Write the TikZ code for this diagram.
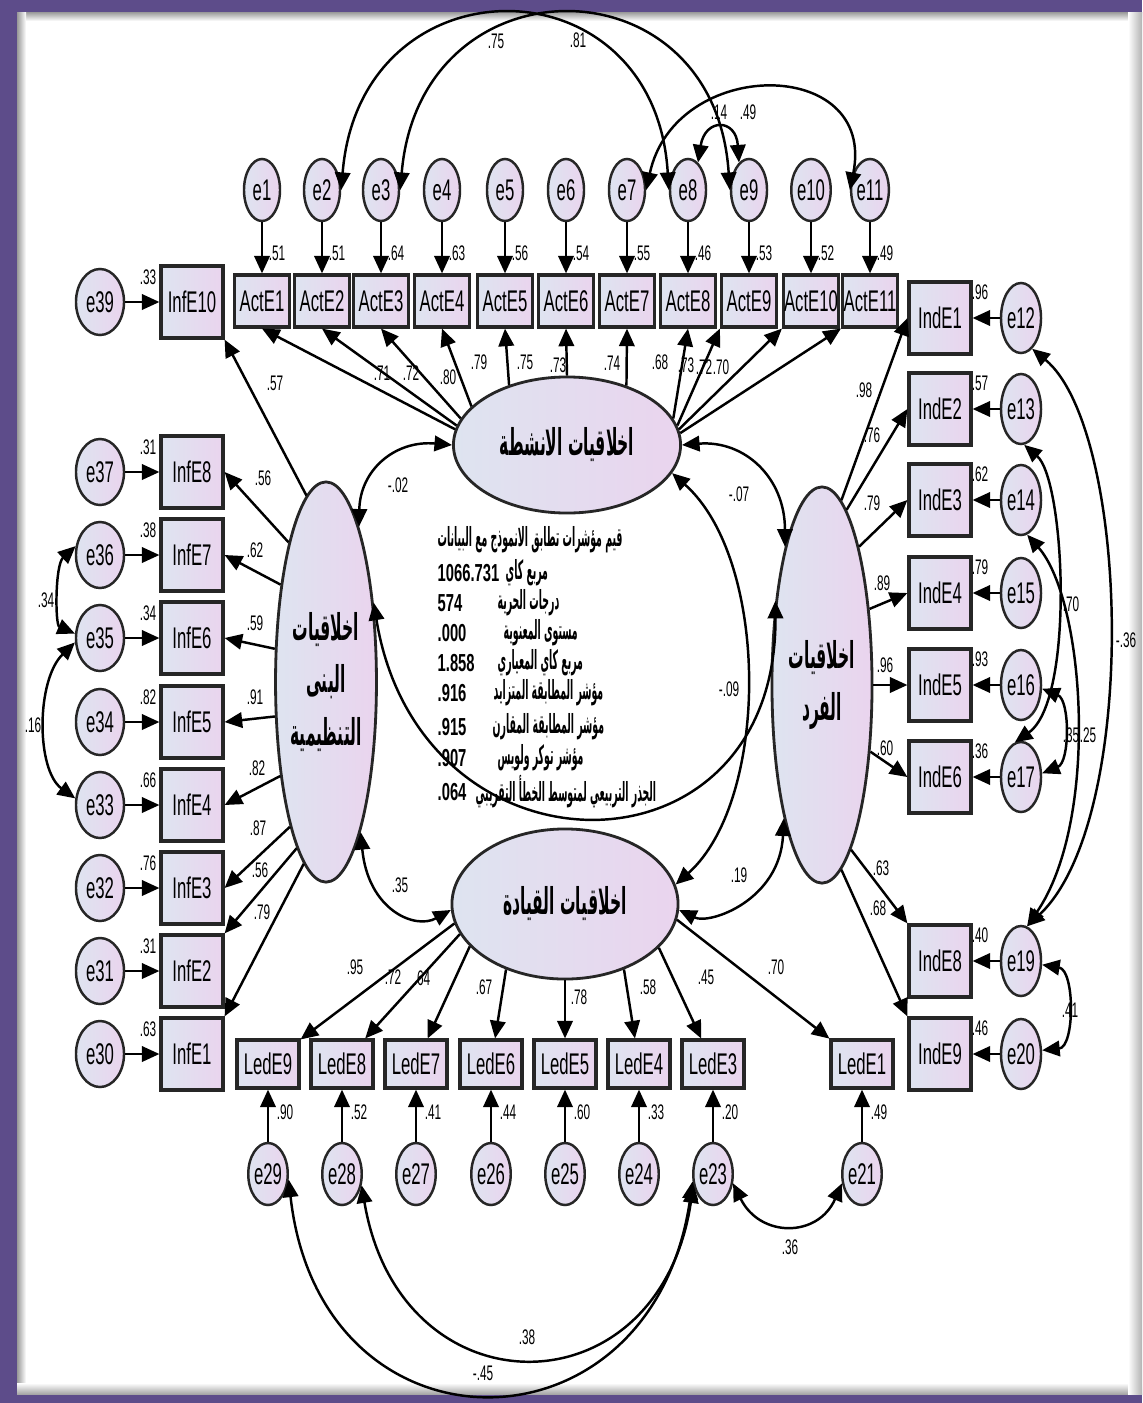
\documentclass[tikz,border=0pt]{standalone}
\usepackage{fontspec}
\setmainfont{Liberation Sans}
\newfontfamily\narrowsans[FakeStretch=0.56]{Liberation Sans}
\newfontfamily\fitfont[FakeStretch=0.6]{Liberation Sans}
\newfontfamily\arabicfont[Script=Arabic,FakeStretch=0.42]{DejaVu Sans}
\newfontfamily\arabicfit[Script=Arabic,FakeStretch=0.355]{DejaVu Sans}
\TeXXeTstate=1
\usetikzlibrary{arrows.meta, shapes.geometric}

\definecolor{framepurple}{RGB}{93,76,138}
\definecolor{nodeleft}{RGB}{222,228,240}
\definecolor{noderight}{RGB}{234,212,238}

\begin{document}
\begin{tikzpicture}[
  x=0.01cm, y=-0.01cm,
  obs/.style={draw=black!85, line width=0.9pt, left color=nodeleft, right color=noderight, inner sep=0pt, font=\narrowsans\fontsize{8.5}{10}\selectfont},
  obsact/.style={obs, minimum width=0.55cm, minimum height=0.52cm},
  obsside/.style={obs, minimum width=0.62cm, minimum height=0.72cm},
  obsled/.style={obs, minimum width=0.62cm, minimum height=0.48cm},
  err/.style={ellipse, draw=black!85, line width=0.7pt, left color=nodeleft, right color=noderight, inner sep=0pt, font=\narrowsans\fontsize{8.5}{10}\selectfont},
  errtop/.style={err, minimum width=0.36cm, minimum height=0.62cm},
  errleft/.style={err, minimum width=0.48cm, minimum height=0.66cm},
  errright/.style={err, minimum width=0.40cm, minimum height=0.70cm},
  lat/.style={ellipse, draw=black!85, line width=0.8pt, left color=nodeleft, right color=noderight, inner sep=0pt, align=center, font=\arabicfont\bfseries\fontsize{10.5}{15}\selectfont},
  arr/.style={-{Triangle[length=5pt, width=4.4pt]}, line width=0.7pt},
  cov/.style={{Triangle[length=5pt, width=4.4pt]}-{Triangle[length=5pt, width=4.4pt]}, line width=0.7pt},
  num/.style={inner sep=0pt, font=\narrowsans\fontsize{6}{7}\selectfont},
  fitnum/.style={anchor=west, inner sep=0pt, font=\fitfont\bfseries\fontsize{7}{8}\selectfont},
  fitlab/.style={anchor=west, inner sep=0pt, font=\arabicfit\bfseries\fontsize{7.5}{9}\selectfont},
]

% Frame
\useasboundingbox (0,0) rectangle (1142,1403);
\fill[framepurple] (0,0) rectangle (1142,1403);
\fill[white] (17,12) rectangle (1142,1394);
\shade[top color=black!40, bottom color=white] (17,12) rectangle (1142,21);
\shade[left color=black!40, right color=white] (17,12) rectangle (26,1394);
\shade[top color=white, bottom color=black!35] (17,1383) rectangle (1142,1394);
\shade[left color=white, right color=black!30] (1128,12) rectangle (1142,1394);

% Latent factors
\node[lat, minimum width=2.27cm, minimum height=1.36cm] (act) at (567,445) {\beginR اخلاقيات الانشطة\endR};
\node[lat, minimum width=1.0cm, minimum height=4.0cm] (org) at (326,682) {\beginR اخلاقيات\endR\\\beginR البنى\endR\\\beginR التنظيمية\endR};
\node[lat, minimum width=1.0cm, minimum height=3.96cm] (ind) at (822,685) {\beginR اخلاقيات\endR\\\beginR الفرد\endR};
\node[lat, minimum width=2.26cm, minimum height=1.5cm] (led) at (565,904) {\beginR اخلاقيات القيادة\endR};

% Activities indicators
\foreach \i/\x/\r in {1/262/.51, 2/322/.51, 3/381/.64, 4/442/.63, 5/505/.56, 6/566/.54, 7/627/.55, 8/688/.46, 9/749/.53, 10/811/.52, 11/870/.49}{
  \node[obsact] (ActE\i) at (\x,301) {ActE\i};
  \node[errtop] (e\i) at (\x,190) {e\i};
  \node[num] (rA\i) at (\x+15,253) {\r};
  \draw[arr] (e\i) -- (ActE\i);
}
\foreach \i/\a/\tip/\lx/\ly/\v in {1/172/south/382/373/.71, 2/170/south/411/373/.72, 3/166/south/448/377/.80, 4/158/south/479/362/.79, 5/134/south/525/362/.75, 6/90/south/558/365/.73, 7/45/south/612/363/.74, 8/14/south/660/362/.68, 9/10/south west/686/365/.73, 10/8/south west/704/367/.72, 11/6/south west/721/367/.70}{
  \draw[arr] (act.\a) -- (ActE\i.\tip);
  \node[num] (lA\i) at (\lx,\ly) {\v};
}

% Organisational structure indicators
\foreach \i/\e/\y/\r in {10/39/302/.33, 8/37/472/.31, 7/36/555/.38, 6/35/638/.34, 5/34/722/.82, 4/33/805/.66, 3/32/888/.76, 2/31/971/.31, 1/30/1054/.63}{
  \node[obsside] (InfE\i) at (192,\y) {InfE\i};
  \node[errleft] (e\e) at (100,\y) {e\e};
  \node[num] (rI\i) at (148,\y-25) {\r};
  \draw[arr] (e\e) -- (InfE\i);
}
\foreach \i/\a/\tip/\lx/\ly/\v in {10/96/south east/275/383/.57, 8/105/east/263/478/.56, 7/115/east/255/550/.62, 6/147/east/255/623/.59, 5/214/east/255/697/.91, 4/244/east/257/768/.82, 3/256/east/258/828/.87, 2/260/north east/260/870/.56, 1/263/north east/262/912/.79}{
  \draw[arr] (org.\a) -- (InfE\i.\tip);
  \node[num] (lI\i) at (\lx,\ly) {\v};
}

% Individual indicators
\foreach \i/\e/\y/\r in {1/12/318/.96, 2/13/409/.57, 3/14/500/.62, 4/15/593/.79, 5/16/685/.93, 6/17/777/.36, 8/19/961/.40, 9/20/1054/.46}{
  \node[obsside] (IndE\i) at (940,\y) {IndE\i};
  \node[errright] (e\e) at (1021,\y) {e\e};
  \node[num] (rD\i) at (980,\y-26) {\r};
  \draw[arr] (e\e) -- (IndE\i);
}
\foreach \i/\a/\tip/\lx/\ly/\v in {1/84/west/864/390/.98, 2/82/west/872/435/.76, 3/75/west/872/503/.79, 4/58/west/882/583/.89, 5/0/west/885/665/.96, 6/-54/west/885/748/.60, 8/-80/north west/881/868/.63, 9/-84/north west/878/908/.68}{
  \draw[arr] (ind.\a) -- (IndE\i.\tip);
  \node[num] (lD\i) at (\lx,\ly) {\v};
}

% Leadership indicators
\foreach \i/\e/\x/\r in {9/29/268/.90, 8/28/342/.52, 7/27/416/.41, 6/26/491/.44, 5/25/565/.60, 4/24/639/.33, 3/23/713/.20, 1/21/862/.49}{
  \node[obsled] (LedE\i) at (\x,1064) {LedE\i};
  \node[errtop] (e\e) at (\x,1174) {e\e};
  \node[num] (rL\i) at (\x+17,1112) {\r};
  \draw[arr] (e\e) -- (LedE\i);
}
\foreach \i/\a/\lx/\ly/\v in {9/190/355/967/.95, 8/196/393/977/.72, 7/204/422/978/.64, 6/228/484/987/.67, 5/270/579/997/.78, 4/312/648/987/.58, 3/335/706/977/.45, 1/352/776/967/.70}{
  \draw[arr] (led.\a) -- (LedE\i);
  \node[num] (lL\i) at (\lx,\ly) {\v};
}

% Factor covariances
\draw[cov] (act.180) .. controls (395,440) and (360,470) .. (org.78);
\node[num] (cAO) at (398,485) {-.02};
\draw[cov] (act.0) .. controls (745,440) and (785,478) .. (ind.105);
\node[num] (cAD) at (739,494) {-.07};
\draw[cov] (act.-15) .. controls (770,560) and (770,800) .. (led.10);
\node[num] (cAL) at (729,689) {-.09};
\draw[cov] (org.59) .. controls (420,887) and (777,887) .. (ind.119);
\draw[cov] (org.-77) .. controls (368,910) and (415,930) .. (led.183);
\node[num] (cOL) at (400,885) {.35};
\draw[cov] (led.-3) .. controls (710,925) and (780,900) .. (ind.-106);
\node[num] (cDL) at (739,875) {.19};

% Error covariances
\draw[cov] (e2.east) .. controls (360,-43) and (655,-43) .. (e8.west);
\node[num] (c28) at (496,41) {.75};
\draw[cov] (e3.east) .. controls (420,-43) and (715,-43) .. (e9.west);
\node[num] (c39) at (578,40) {.81};
\draw[cov] (e7.east) .. controls (675,56) and (877,56) .. (e11.west);
\node[num] (c711) at (748,112) {.49};
\draw[cov] (e8.70) .. controls (705,118) and (736,118) .. (e9.110);
\node[num] (c89) at (719,112) {.14};
\draw[cov] (e36.160) .. controls (55,565) and (55,625) .. (e35.170);
\node[num] (c3635) at (46,600) {.34};
\draw[cov] (e35.190) .. controls (36,680) and (36,770) .. (e33.165);
\node[num] (c3533) at (33,725) {.16};
\draw[cov] (e12.-70) .. controls (1130,430) and (1140,820) .. (e19.80);
\node[num] (c1219) at (1126,640) {-.36};
\draw[cov] (e13.-85) .. controls (1065,480) and (1075,700) .. (e17.100);
\node[num] (c1317) at (1071,604) {.70};
\draw[cov] (e14.-80) .. controls (1085,600) and (1100,820) .. (e19.80);
\node[num] (c1419) at (1088,735) {.25};
\draw[cov] (e16.-10) .. controls (1070,700) and (1070,762) .. (e17.10);
\node[num] (c1617) at (1071,735) {.35};
\draw[cov] (e19.-10) .. controls (1075,970) and (1075,1047) .. (e20.10);
\node[num] (c1920) at (1070,1010) {.41};
\draw[cov] (e23.-25) .. controls (760,1238) and (818,1238) .. (e21.205);
\node[num] (c2321) at (790,1247) {.36};
\draw[cov] (e28.-30) .. controls (400,1415) and (659,1415) .. (e23.210);
\node[num] (c2823) at (527,1337) {.38};
\draw[cov] (e29.-15) .. controls (320,1464) and (653,1464) .. (e23.200);
\node[num] (c2923) at (483,1373) {-.45};

% Fit indices
\node[fitlab] (fittitle) at (437,540) {\beginR قيم مؤشرات تطابق الانموذج مع البيانات\endR};
\node[fitnum] (chi) at (437,573) {1066.731};
\node[fitlab] (chilab) at (505,573) {\beginR مربع كاي\endR};
\node[fitnum] (df) at (437,603) {574};
\node[fitlab] (dflab) at (497,603) {\beginR درجات الحرية\endR};
\node[fitnum] (pval) at (437,633) {.000};
\node[fitlab] (pvallab) at (503,633) {\beginR مستوى المعنوية\endR};
\node[fitnum] (cmin) at (437,663) {1.858};
\node[fitlab] (cminlab) at (497,663) {\beginR مربع كاي المعياري\endR};
\node[fitnum] (ifi) at (437,693) {.916};
\node[fitlab] (ifilab) at (493,693) {\beginR مؤشر المطابقة المتزايد\endR};
\node[fitnum] (cfi) at (437,727) {.915};
\node[fitlab] (cfilab) at (492,727) {\beginR مؤشر المطابقة المقارن\endR};
\node[fitnum] (tli) at (437,758) {.907};
\node[fitlab] (tlilab) at (497,758) {\beginR مؤشر توكر ولويس\endR};
\node[fitnum] (rmsea) at (437,792) {.064};
\node[fitlab] (rmsealab) at (475,792) {\beginR الجذر التربيعي لمتوسط الخطأ التقريبي\endR};

\end{tikzpicture}
\end{document}
